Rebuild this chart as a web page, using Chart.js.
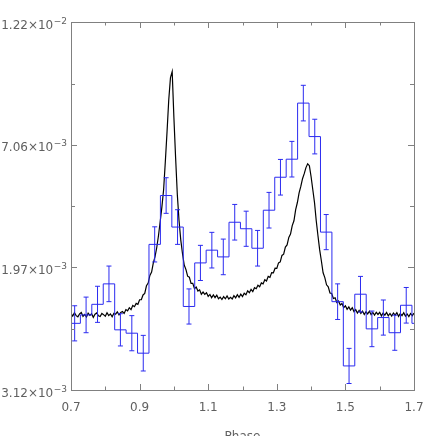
<!DOCTYPE html>
<html>
<head>
<meta charset="utf-8">
<script src="https://cdn.jsdelivr.net/npm/chart.js@4/dist/chart.umd.min.js"></script>
<style>
  html, body { margin: 0; padding: 0; background: #fff; }
</style>
</head>
<body>
<canvas id="chart" width="436" height="436"></canvas>
<script>
// model light curve, phase grid 0.700 .. 1.700 in steps of 0.005 (flux in units of 1e-3)
const CURVE_START = 0.7;
const CURVE_STEP = 0.005;
const curveFlux = [
  0.06, -0.05, 0.09, -0.03, -0.08, 0.04, 0.10, -0.06, 0.02, -0.09,
  0.07, -0.02, 0.05, -0.10, 0.03, 0.08, -0.04, -0.07, 0.06, 0.01,
  -0.06, 0.09, -0.03, 0.04, -0.08, 0.07, 0.03, 0.13, 0.00, 0.10,
  0.14, 0.06, 0.22, 0.17, 0.30, 0.22, 0.39, 0.34, 0.48, 0.44,
  0.63, 0.63, 0.83, 0.89, 1.21, 1.32, 1.64, 1.78, 2.16, 2.42,
  2.80, 3.29, 3.87, 4.49, 5.20, 6.36, 7.61, 8.94, 9.86, 10.11,
  8.20, 6.53, 4.99, 3.91, 3.12, 2.55, 2.08, 1.89, 1.61, 1.57,
  1.31, 1.31, 1.09, 1.16, 0.99, 1.04, 0.86, 0.95, 0.85, 0.92,
  0.77, 0.85, 0.71, 0.83, 0.72, 0.82, 0.67, 0.74, 0.64, 0.76,
  0.67, 0.79, 0.66, 0.73, 0.66, 0.80, 0.71, 0.84, 0.73, 0.86,
  0.76, 0.90, 0.84, 1.00, 0.92, 1.06, 0.97, 1.13, 1.09, 1.23,
  1.17, 1.33, 1.29, 1.46, 1.41, 1.60, 1.56, 1.76, 1.75, 1.94,
  1.93, 2.16, 2.20, 2.47, 2.52, 2.82, 2.91, 3.22, 3.36, 3.71,
  3.91, 4.37, 4.67, 5.07, 5.34, 5.66, 5.87, 6.12, 6.28, 6.20,
  5.74, 5.20, 4.66, 3.91, 3.29, 2.70, 2.24, 1.75, 1.55, 1.25,
  1.17, 0.91, 0.89, 0.68, 0.71, 0.52, 0.58, 0.41, 0.47, 0.30,
  0.38, 0.23, 0.33, 0.20, 0.30, 0.14, 0.22, 0.08, 0.19, 0.06,
  0.16, 0.02, 0.13, 0.04, 0.15, 0.01, 0.10, -0.01, 0.11, 0.02,
  0.11, -0.04, 0.08, -0.01, 0.10, -0.04, 0.06, -0.05, 0.08, -0.01,
  0.09, -0.06, 0.06, -0.03, 0.09, -0.05, 0.04, -0.07, 0.06, -0.03,
  0.07
];

// binned data, 30 bins of width 1/30 starting at phase 0.694 (units of 1e-3)
const BIN_START = 0.694;
const BIN_WIDTH = 1 / 30;
const binFlux = [
  -0.35, 0.00, 0.44, 1.29, -0.62, -0.76, -1.59, 2.93, 4.96, 3.65,
  0.35, 2.16, 2.69, 2.41, 3.85, 3.58, 2.77, 4.35, 5.72, 6.47,
  8.80, 7.41, 3.44, 0.55, -2.12, 0.86, -0.58, -0.11, -0.74, 0.40
];
const binError = [
  0.73, 0.74, 0.75, 0.74, 0.67, 0.73, 0.74, 0.73, 0.74, 0.72,
  0.73, 0.73, 0.74, 0.74, 0.74, 0.73, 0.74, 0.74, 0.74, 0.74,
  0.74, 0.72, 0.73, 0.74, 0.73, 0.74, 0.74, 0.73, 0.73, 0.74
];

const UNIT = 1e-3;
const yTickValues = [-3.12e-3, 1.97e-3, 7.06e-3, 1.215e-2];
const yTickMantissa = ['3.12×10', '1.97×10', '7.06×10', '1.22×10'];
const yTickExponent = ['−3', '−3', '−3', '−2'];
const xTickValues = [0.7, 0.8, 0.9, 1.0, 1.1, 1.2, 1.3, 1.4, 1.5, 1.6, 1.7];
const xTickLabels = ['0.7', '', '0.9', '', '1.1', '', '1.3', '', '1.5', '', '1.7'];

const LINE_BLUE = '#2b2bf0';
const AXIS_GREY = '#808080';
const TEXT_GREY = '#606060';
const LABEL_FONT = 'DejaVu Sans';

const curvePoints = curveFlux.map((v, i) => ({ x: CURVE_START + i * CURVE_STEP, y: v * UNIT }));

// step outline: one point per left bin edge, phase wraps so the bin past 1.694 repeats the first one
const histPoints = [];
for (let k = 0; k <= 31; k++) {
  histPoints.push({ x: BIN_START + k * BIN_WIDTH, y: binFlux[k % binFlux.length] * UNIT });
}

const errorBars = {
  id: 'errorBars',
  afterDatasetsDraw(chart) {
    const { ctx, chartArea: a, scales: { x, y } } = chart;
    ctx.save();
    ctx.beginPath();
    ctx.rect(a.left, a.top, a.right - a.left, a.bottom - a.top);
    ctx.clip();
    ctx.strokeStyle = LINE_BLUE;
    ctx.lineWidth = 1;
    binFlux.forEach((v, k) => {
      const px = x.getPixelForValue(BIN_START + (k + 0.5) * BIN_WIDTH);
      const top = y.getPixelForValue((v + binError[k]) * UNIT);
      const bot = y.getPixelForValue((v - binError[k]) * UNIT);
      ctx.beginPath();
      ctx.moveTo(px, top);
      ctx.lineTo(px, bot);
      ctx.moveTo(px - 2.5, top);
      ctx.lineTo(px + 2.5, top);
      ctx.moveTo(px - 2.5, bot);
      ctx.lineTo(px + 2.5, bot);
      ctx.stroke();
    });
    ctx.restore();
  }
};

// frame with inward ticks on all four sides, plus y labels with raised exponents
const frameTicks = {
  id: 'frameTicks',
  afterDraw(chart) {
    const { ctx, chartArea: a, scales: { x, y } } = chart;
    ctx.save();
    ctx.strokeStyle = AXIS_GREY;
    ctx.lineWidth = 1;
    ctx.strokeRect(a.left + 0.5, a.top + 0.5, a.right - a.left, a.bottom - a.top);
    ctx.beginPath();
    xTickValues.forEach((v, i) => {
      const px = Math.round(x.getPixelForValue(v)) + 0.5;
      const len = xTickLabels[i] ? 6 : 3.5;
      ctx.moveTo(px, a.bottom);
      ctx.lineTo(px, a.bottom - len);
      ctx.moveTo(px, a.top);
      ctx.lineTo(px, a.top + len);
    });
    const yAll = [];
    yTickValues.forEach((v, i) => {
      yAll.push([v, 6]);
      if (i < yTickValues.length - 1) yAll.push([(v + yTickValues[i + 1]) / 2, 4]);
    });
    yAll.forEach(([v, len]) => {
      const py = Math.round(y.getPixelForValue(v)) + 0.5;
      ctx.moveTo(a.left, py);
      ctx.lineTo(a.left + len, py);
      ctx.moveTo(a.right, py);
      ctx.lineTo(a.right - len, py);
    });
    ctx.stroke();

    ctx.fillStyle = TEXT_GREY;
    ctx.textAlign = 'right';
    ctx.textBaseline = 'alphabetic';
    yTickValues.forEach((v, i) => {
      const py = y.getPixelForValue(v);
      const right = a.left - 4;
      ctx.font = `9px "${LABEL_FONT}"`;
      ctx.fillText(yTickExponent[i], right, py + 1.5);
      const expW = ctx.measureText(yTickExponent[i]).width;
      ctx.font = `12px "${LABEL_FONT}"`;
      ctx.fillText(yTickMantissa[i], right - expW - 0.5, py + 6.5);
    });
    ctx.restore();
  }
};

new Chart(document.getElementById('chart'), {
  type: 'line',
  data: {
    datasets: [
      {
        label: 'Binned',
        data: histPoints,
        borderColor: LINE_BLUE,
        borderWidth: 1,
        stepped: true,
        pointRadius: 0,
        fill: false,
      },
      {
        label: 'Model',
        data: curvePoints,
        borderColor: '#000',
        borderWidth: 1.2,
        pointRadius: 0,
        tension: 0,
        fill: false,
      },
    ],
  },
  options: {
    responsive: false,
    animation: false,
    layout: { padding: { left: 0, right: 22, top: 22, bottom: 0 } },
    plugins: {
      legend: { display: false },
      tooltip: { enabled: false },
    },
    scales: {
      x: {
        type: 'linear',
        min: 0.7,
        max: 1.7,
        grid: { display: false },
        border: { display: false },
        afterBuildTicks: (scale) => {
          scale.ticks = xTickValues.map((v) => ({ value: v }));
        },
        afterFit: (scale) => { scale.height = 46; },
        ticks: {
          autoSkip: false,
          maxRotation: 0,
          padding: 3,
          color: TEXT_GREY,
          font: { family: LABEL_FONT, size: 12 },
          callback: (v, i) => xTickLabels[i],
        },
        title: {
          display: true,
          text: 'Phase',
          color: TEXT_GREY,
          font: { family: LABEL_FONT, size: 12 },
          padding: { top: 0, bottom: -8 },
        },
      },
      y: {
        min: -3.12e-3,
        max: 1.217e-2,
        grid: { display: false },
        border: { display: false },
        afterBuildTicks: (scale) => {
          scale.ticks = yTickValues.map((v) => ({ value: v }));
        },
        afterFit: (scale) => { scale.width = 71; },
        ticks: { display: false },
      },
    },
  },
  plugins: [errorBars, frameTicks],
});
</script>
</body>
</html>
